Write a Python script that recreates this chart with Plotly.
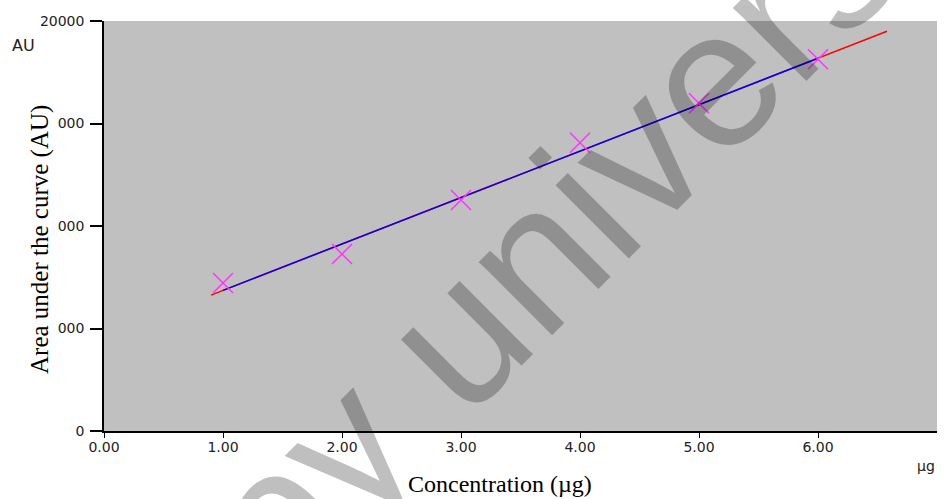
import plotly.graph_objects as go

# ---- data ----
concentration = [1.0, 2.0, 3.0, 4.0, 5.0, 6.0]
area = [7220, 8630, 11270, 14060, 15990, 18130]

# calibration line
fit_full_x = [0.9, 6.58]
fit_full_y = [6630, 19500]
fit_mid_x = [1.0, 6.0]
fit_mid_y = [6860, 18180]

x_tickvals = [0, 1, 2, 3, 4, 5, 6]
x_ticktext = ["0.00", "1.00", "2.00", "3.00", "4.00", "5.00", "6.00"]
y_tickvals = [0, 5000, 10000, 15000, 20000]
y_ticktext = ["0", "5000", "10000", "15000", "20000"]

W, H = 944, 499
L, R, T, B = 104, 937, 21, 431


def px(x):
    return (x - L) / (R - L)


def py(y):
    return (B - y) / (B - T)


fig = go.Figure()
fig.add_trace(go.Scatter(x=fit_full_x, y=fit_full_y, mode="lines",
                         line=dict(color="#ff0000", width=1.5), showlegend=False))
fig.add_trace(go.Scatter(x=fit_mid_x, y=fit_mid_y, mode="lines",
                         line=dict(color="#0000ff", width=1.5), showlegend=False))
fig.add_trace(go.Scatter(x=concentration, y=area, mode="markers",
                         marker=dict(symbol="x-thin", size=20,
                                     line=dict(color="#ff33ff", width=1.5)),
                         showlegend=False))

tickfont = dict(family="DejaVu Sans", size=14, color="#222222")

fig.update_layout(
    width=W, height=H,
    margin=dict(l=L, r=W - R, t=T, b=H - B),
    paper_bgcolor="white",
    plot_bgcolor="#c0c0c0",
    xaxis=dict(range=[0, 7], tickvals=x_tickvals, ticktext=x_ticktext,
               showgrid=False, zeroline=False, showline=True,
               linecolor="black", linewidth=1.5, ticks="outside",
               ticklen=5, tickcolor="black", tickwidth=1, tickfont=tickfont,
               ticklabelstandoff=-3),
    yaxis=dict(range=[0, 20000], tickvals=y_tickvals, ticktext=y_ticktext,
               showgrid=False, zeroline=False, showline=True,
               linecolor="black", linewidth=1.5, ticks="outside",
               ticklen=12, tickcolor="black", tickwidth=1.5, tickfont=tickfont,
               ticklabelstandoff=3),
)

# white box behind the y-axis title (hides part of the tick labels)
fig.add_shape(type="rect", xref="paper", yref="paper",
              x0=px(12), x1=px(58), y0=py(400), y1=py(60),
              fillcolor="white", line=dict(width=0), layer="above")

serif_y = dict(family="Liberation Serif, Times New Roman, serif", size=25, color="black")
serif_x = dict(family="Liberation Serif, Times New Roman, serif", size=24, color="black")
fig.add_annotation(text="Area under the curve (AU)", xref="paper", yref="paper",
                   x=px(40), y=py(240), textangle=-90, showarrow=False,
                   xanchor="center", yanchor="middle", font=serif_y)
fig.add_annotation(text="Concentration (µg)", xref="paper", yref="paper",
                   x=px(500), y=py(484), showarrow=False,
                   xanchor="center", yanchor="middle", font=serif_x)
fig.add_annotation(text="AU", xref="paper", yref="paper",
                   x=px(23), y=py(45), showarrow=False,
                   xanchor="center", yanchor="middle",
                   font=dict(family="DejaVu Sans", size=16, color="#222222"))
fig.add_annotation(text="µg", xref="paper", yref="paper",
                   x=px(926), y=py(466), showarrow=False,
                   xanchor="center", yanchor="middle", font=tickfont)

# watermark (cut off at the picture edges, as in the reference)
fig.add_annotation(text="Copy university", xref="paper", yref="paper",
                   x=px(529), y=py(262), textangle=-45, showarrow=False,
                   xanchor="center", yanchor="middle",
                   font=dict(family="Liberation Sans, Arial", size=196,
                             color="rgba(0,0,0,0.25)"))

fig.write_html("out.html")
